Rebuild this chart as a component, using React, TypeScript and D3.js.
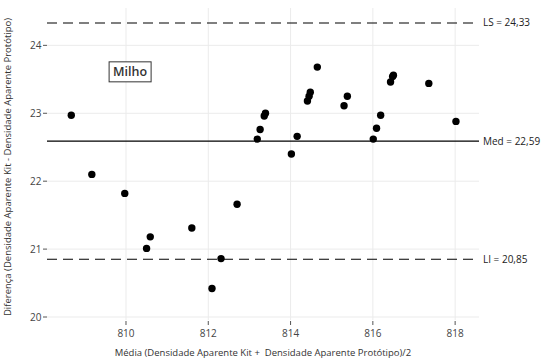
import React from "react";
import * as d3 from "d3";

const meanX: number[] = [
  808.67, 809.17, 809.97, 810.59, 810.5, 811.6, 812.09, 812.31, 812.7, 813.19,
  813.26, 813.36, 813.39, 814.02, 814.16, 814.41, 814.45, 814.48, 814.65, 815.3,
  815.38, 816.01, 816.09, 816.19, 816.43, 816.48, 816.5, 817.36, 818.02,
];
const diffY: number[] = [
  22.97, 22.1, 21.82, 21.18, 21.01, 21.31, 20.42, 20.86, 21.66, 22.62,
  22.76, 22.96, 23.0, 22.4, 22.66, 23.18, 23.25, 23.31, 23.68, 23.11,
  23.25, 22.62, 22.78, 22.97, 23.46, 23.54, 23.56, 23.44, 22.88,
];
const xTicks: number[] = [810, 812, 814, 816, 818];
const yTicks: number[] = [20, 21, 22, 23, 24];
const refLines = [
  { label: "LS = 24,33", value: 24.33, dashed: true },
  { label: "Med = 22,59", value: 22.59, dashed: false },
  { label: "LI = 20,85", value: 20.85, dashed: true },
];
const annotation = { text: "Milho", x: 810.1, y: 23.61 };
const xTitle = "Média (Densidade Aparente Kit +  Densidade Aparente Protótipo)/2";
const yTitle = "Diferença (Densidade Aparente Kit - Densidade Aparente Protótipo)";

const W = 542;
const H = 362;
const panel = { left: 47, right: 479, top: 8, bottom: 320 };
const FONT = "'Open Sans', 'Noto Sans', sans-serif";

export default function App() {
  const x = d3.scaleLinear().domain([808.08, 818.58]).range([panel.left, panel.right]);
  const y = d3.scaleLinear().domain([19.956, 24.55]).range([panel.bottom, panel.top]);
  const points = meanX.map((v, i) => ({ x: v, y: diffY[i] }));
  const cx = (panel.left + panel.right) / 2;
  const cy = (panel.top + panel.bottom) / 2;

  return (
    <svg
      width={W}
      height={H}
      style={{ position: "absolute", left: 0, top: 0, background: "#fff" }}
      fontFamily={FONT}
    >
      <rect x={0} y={0} width={W} height={H} fill="#fff" />
      {/* grid */}
      {yTicks.map((t) => (
        <line key={"gy" + t} x1={panel.left} x2={panel.right} y1={y(t)} y2={y(t)} stroke="#ebebeb" strokeWidth={1} />
      ))}
      {xTicks.map((t) => (
        <line key={"gx" + t} x1={x(t)} x2={x(t)} y1={panel.top} y2={panel.bottom} stroke="#ebebeb" strokeWidth={1} />
      ))}
      {/* ticks */}
      {yTicks.map((t) => (
        <g key={"ty" + t}>
          <line x1={panel.left - 4} x2={panel.left} y1={y(t)} y2={y(t)} stroke="#555" strokeWidth={1} />
          <text x={panel.left - 5.5} y={y(t)} dy="0.35em" textAnchor="end" fontSize={10} fill="#444">
            {t}
          </text>
        </g>
      ))}
      {xTicks.map((t) => (
        <g key={"tx" + t}>
          <line x1={x(t)} x2={x(t)} y1={panel.bottom + 1} y2={panel.bottom + 5} stroke="#555" strokeWidth={1} />
          <text x={x(t)} y={panel.bottom + 17} textAnchor="middle" fontSize={10} fill="#444">
            {t}
          </text>
        </g>
      ))}
      {/* reference lines */}
      {refLines.map((r) => (
        <g key={r.label}>
          <line
            x1={panel.left}
            x2={panel.right}
            y1={y(r.value)}
            y2={y(r.value)}
            stroke="#000"
            strokeWidth={1.1}
            strokeDasharray={r.dashed ? "10,6" : undefined}
          />
          <text x={panel.right + 4} y={y(r.value)} dy="0.35em" fontSize={10} fill="#222">
            {r.label}
          </text>
        </g>
      ))}
      {/* points */}
      {points.map((p, i) => (
        <circle key={i} cx={x(p.x)} cy={y(p.y)} r={3.7} fill="#000" />
      ))}
      {/* annotation */}
      <g transform={`translate(${x(annotation.x)},${y(annotation.y)})`}>
        <rect x={-21} y={-10} width={42} height={20} fill="#fff" stroke="#333" strokeWidth={1} />
        <text x={0} y={0} dy="0.36em" textAnchor="middle" fontSize={12.5} fontWeight={600} fill="#333">
          {annotation.text}
        </text>
      </g>
      {/* axis titles */}
      <text x={cx} y={356} textAnchor="middle" fontSize={9.5} fill="#333" style={{ whiteSpace: "pre" }}>
        {xTitle}
      </text>
      <text
        transform={`translate(11,${cy + 3}) rotate(-90)`}
        textAnchor="middle"
        fontSize={9.5}
        fill="#333"
      >
        {yTitle}
      </text>
    </svg>
  );
}
